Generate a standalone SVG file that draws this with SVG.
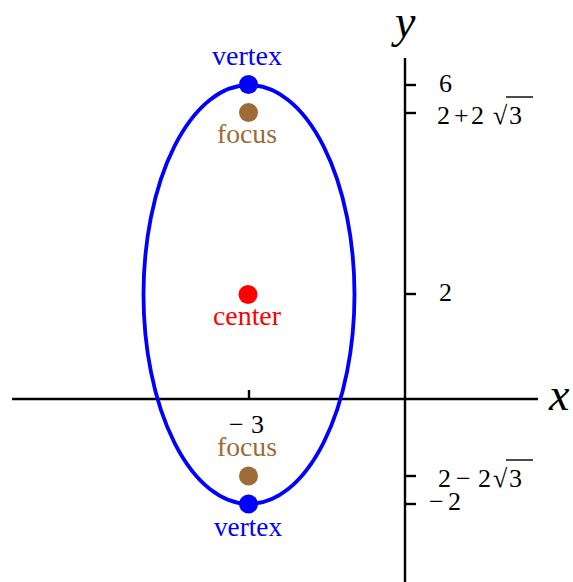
<svg xmlns="http://www.w3.org/2000/svg" width="573" height="582" viewBox="0 0 573 582">
<style>
.ax{stroke:#000;stroke-width:2.4;fill:none}
.tk{font-family:"Liberation Serif",serif;font-size:26px;fill:#000}
.lb{font-family:"Liberation Serif",serif;font-size:27px}
.var{font-family:"Liberation Serif",serif;font-style:italic;font-size:46px;fill:#000}
.bar{stroke:#000;stroke-width:1.4}
</style>
<rect width="573" height="582" fill="#fff"/>
<g id="axes">
<line class="ax" x1="12" y1="399" x2="538" y2="399"/>
<line class="ax" x1="405" y1="58" x2="405" y2="582"/>
<line class="ax" x1="249" y1="390" x2="249" y2="399"/>
<line class="ax" x1="405" y1="85" x2="416" y2="85"/>
<line class="ax" x1="405" y1="113" x2="416" y2="113"/>
<line class="ax" x1="405" y1="294" x2="416" y2="294"/>
<line class="ax" x1="405" y1="476" x2="416" y2="476"/>
<line class="ax" x1="405" y1="504" x2="416" y2="504"/>
<text class="var" x="395" y="37">y</text>
<text class="var" x="549" y="410">x</text>
<text class="tk" x="439" y="92">6</text>
<text class="tk" y="124"><tspan x="437">2</tspan><tspan x="454">+</tspan><tspan x="471">2</tspan><tspan x="493">√</tspan><tspan x="509">3</tspan></text>
<line class="bar" x1="506" y1="97" x2="533" y2="97"/>
<text class="tk" x="439" y="301">2</text>
<text class="tk" y="487"><tspan x="438">2</tspan><tspan x="456">−</tspan><tspan x="478">2</tspan><tspan x="493">√</tspan><tspan x="509">3</tspan></text>
<line class="bar" x1="506" y1="460" x2="533" y2="460"/>
<text class="tk" y="510"><tspan x="429">−</tspan><tspan x="448">2</tspan></text>
<text class="tk" y="433"><tspan x="229">−</tspan><tspan x="251">3</tspan></text>
</g>
<g id="ellipse">
<ellipse cx="249" cy="294.5" rx="105.5" ry="209.5" fill="none" stroke="#0000ff" stroke-width="3.8"/>
</g>
<g id="vertex-top">
<circle cx="248.5" cy="84.5" r="9.5" fill="#0000ff"/>
<text class="lb" x="212" y="65" fill="#0000ff" textLength="70" lengthAdjust="spacingAndGlyphs">vertex</text>
</g>
<g id="focus-top">
<circle cx="248.5" cy="112.5" r="9.5" fill="#9e6a35"/>
<text class="lb" x="217" y="143" fill="#9e6a35" textLength="60" lengthAdjust="spacingAndGlyphs">focus</text>
</g>
<g id="center">
<circle cx="248" cy="294.5" r="9.5" fill="#ff0000"/>
<text class="lb" x="213" y="325" fill="#ff0000" textLength="68" lengthAdjust="spacingAndGlyphs">center</text>
</g>
<g id="focus-bottom">
<circle cx="248.5" cy="476" r="9.5" fill="#9e6a35"/>
<text class="lb" x="217" y="456" fill="#9e6a35" textLength="60" lengthAdjust="spacingAndGlyphs">focus</text>
</g>
<g id="vertex-bottom">
<circle cx="248.5" cy="504" r="9.5" fill="#0000ff"/>
<text class="lb" x="214" y="536" fill="#0000ff" textLength="68" lengthAdjust="spacingAndGlyphs">vertex</text>
</g>
</svg>
